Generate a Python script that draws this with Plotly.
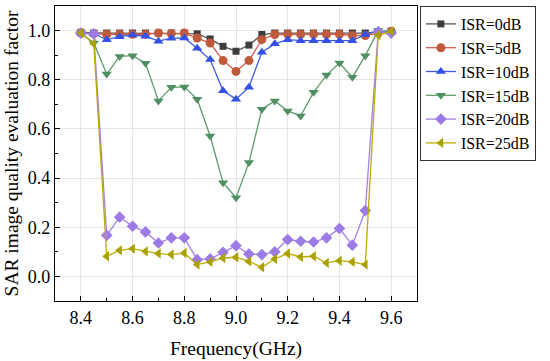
import plotly.graph_objects as go

freq = [8.40, 8.45, 8.50, 8.55, 8.60, 8.65, 8.70, 8.75, 8.80, 8.85, 8.90, 8.95, 9.00,
        9.05, 9.10, 9.15, 9.20, 9.25, 9.30, 9.35, 9.40, 9.45, 9.50, 9.55, 9.60]

isr0 = [0.993, 0.99, 0.99, 0.99, 0.99, 0.99, 0.99, 0.99, 0.99, 0.987, 0.966, 0.936, 0.916,
        0.941, 0.984, 0.99, 0.99, 0.99, 0.99, 0.99, 0.99, 0.99, 0.99, 0.995, 0.997]
isr5 = [0.99, 0.987, 0.985, 0.985, 0.985, 0.985, 0.99, 0.988, 0.99, 0.970, 0.949, 0.878, 0.834,
        0.878, 0.963, 0.984, 0.985, 0.985, 0.985, 0.985, 0.985, 0.98, 0.98, 0.99, 0.997]
isr10 = [0.99, 0.987, 0.963, 0.975, 0.982, 0.977, 0.957, 0.969, 0.970, 0.928, 0.882, 0.755, 0.721,
         0.770, 0.912, 0.946, 0.963, 0.959, 0.959, 0.959, 0.959, 0.959, 0.984, 1.0, 0.996]
isr15 = [0.99, 0.95, 0.823, 0.895, 0.898, 0.867, 0.714, 0.769, 0.771, 0.721, 0.571, 0.381, 0.320,
         0.463, 0.680, 0.714, 0.673, 0.653, 0.749, 0.819, 0.868, 0.810, 0.898, 1.0, 0.99]
isr20 = [0.99, 0.987, 0.167, 0.241, 0.204, 0.181, 0.136, 0.157, 0.157, 0.068, 0.071, 0.098, 0.125,
         0.091, 0.089, 0.100, 0.150, 0.143, 0.140, 0.157, 0.195, 0.127, 0.268, 0.995, 0.99]
isr25 = [0.99, 0.946, 0.082, 0.106, 0.113, 0.102, 0.093, 0.089, 0.095, 0.048, 0.059, 0.075, 0.078,
         0.061, 0.037, 0.071, 0.093, 0.079, 0.082, 0.055, 0.064, 0.059, 0.048, 0.982, 0.997]

series = [
    ("ISR=0dB", isr0, "#555555", "#3d3d3d", "square", 7),
    ("ISR=5dB", isr5, "#d85a4c", "#bf5b3c", "circle", 9),
    ("ISR=10dB", isr10, "#3d5be0", "#3450e6", "triangle-up", 9),
    ("ISR=15dB", isr15, "#5e9c6c", "#4f8f62", "triangle-down", 9),
    ("ISR=20dB", isr20, "#a282e3", "#9d7be6", "diamond", 9),
    ("ISR=25dB", isr25, "#bcab00", "#aaa000", "triangle-left", 9),
]

fig = go.Figure()
for name, vals, lc, mc, sym, ms in series:
    fig.add_trace(go.Scatter(
        x=freq, y=vals, name=name, mode="lines+markers",
        line=dict(color=lc, width=1.3),
        marker=dict(symbol=sym, size=ms, color=mc, line=dict(width=0)),
    ))

font = "Liberation Serif, Times New Roman, serif"
axis_common = dict(
    showline=True, linecolor="black", linewidth=1.3, mirror=True,
    ticks="inside", ticklen=5, tickwidth=1, tickcolor="black",
    showgrid=True, gridcolor="#e6e6e6", gridwidth=1, zeroline=False,
    tickfont=dict(family=font, size=18, color="black"),
    automargin=False,
)
fig.update_xaxes(
    range=[8.3, 9.7], tickvals=[8.4, 8.6, 8.8, 9.0, 9.2, 9.4, 9.6],
    ticktext=["8.4", "8.6", "8.8", "9.0", "9.2", "9.4", "9.6"],
    minor=dict(ticks="inside", tickvals=[8.5, 8.7, 8.9, 9.1, 9.3, 9.5], ticklen=3,
               tickcolor="black", showgrid=False),
    title=dict(text="Frequency(GHz)", font=dict(family=font, size=19.5, color="black"), standoff=14),
    **axis_common,
)
fig.update_yaxes(
    range=[-0.1, 1.1], tickvals=[0.0, 0.2, 0.4, 0.6, 0.8, 1.0],
    ticktext=["0.0", "0.2", "0.4", "0.6", "0.8", "1.0"],
    minor=dict(ticks="inside", tickvals=[-0.1, 0.1, 0.3, 0.5, 0.7, 0.9, 1.1], ticklen=3,
               tickcolor="black", showgrid=False),
    title=dict(text="SAR image quality evaluation factor", font=dict(family=font, size=19.5, color="black"), standoff=3),
    **axis_common,
)
fig.update_layout(
    width=550, height=361,
    margin=dict(l=55, r=133, t=6, b=60),
    paper_bgcolor="white", plot_bgcolor="white",
    font=dict(family=font, size=18, color="black"),
    legend=dict(x=1.008, y=1.0, xanchor="left", yanchor="top",
                bordercolor="#333333", borderwidth=1, bgcolor="white",
                font=dict(family=font, size=16, color="black"),
                tracegroupgap=0, itemwidth=30),
    showlegend=True,
)
fig.write_html("out.html", config={"displayModeBar": False},
               post_script="document.body.style.margin='0';")
